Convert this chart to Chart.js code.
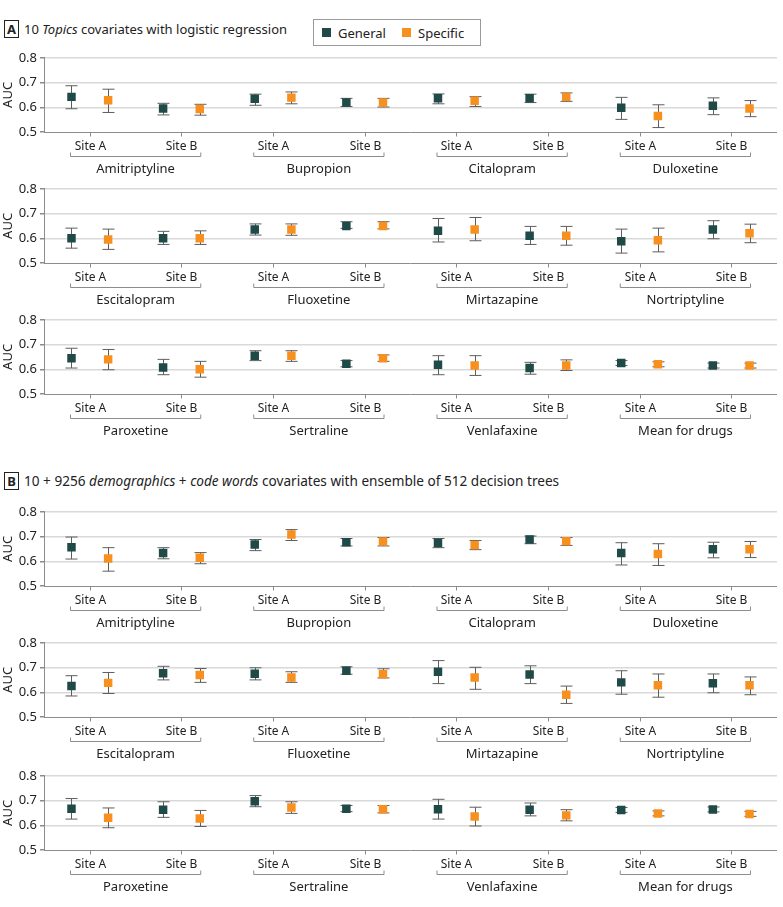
<!DOCTYPE html>
<html>
<head>
<meta charset="utf-8">
<script src="https://cdn.jsdelivr.net/npm/chart.js@4.4.1/dist/chart.umd.min.js"></script>
<style>
  body { margin: 0; background: #fff; font-family: "Noto Sans", sans-serif; color: #222; }
  #page { position: relative; width: 783px; height: 907px; }
  .hdr { position: absolute; left: 4px; font-size: 13px; line-height: 16px; white-space: nowrap; }
  .hdr .tag { display: inline-block; border: 1px solid #222; font-weight: bold; width: 13px; text-align: center; margin-right: 5px; font-size: 13px; }
  .legend { position: absolute; left: 313px; top: 19px; width: 166px; height: 25px; border: 1px solid #9a9a9a; font-size: 13px; }
  .legend span { position: absolute; top: 4px; }
  .legend i { position: absolute; top: 8px; width: 9px; height: 9px; }
  .panel { position: absolute; left: 0; width: 783px; height: 131px; }
</style>
</head>
<body>
<div id="page">
  <div class="hdr" style="top:20px"><span class="tag">A</span>10 <i>Topics</i> covariates with logistic regression</div>
  <div class="legend">
    <i style="left:8px;background:#1f4a48"></i><span style="left:24px">General</span>
    <i style="left:88px;background:#f7901e"></i><span style="left:104px">Specific</span>
  </div>
  <div class="hdr" style="top:472px;font-size:13.6px"><span class="tag">B</span>10 + 9256 <i>demographics</i> + <i>code words</i> covariates with ensemble of 512 decision trees</div>
  <div class="panel" style="top:47px"><canvas id="a0"></canvas></div>
  <div class="panel" style="top:178px"><canvas id="a1"></canvas></div>
  <div class="panel" style="top:309px"><canvas id="a2"></canvas></div>
  <div class="panel" style="top:501px"><canvas id="b0"></canvas></div>
  <div class="panel" style="top:632px"><canvas id="b1"></canvas></div>
  <div class="panel" style="top:765px"><canvas id="b2"></canvas></div>
</div>
<script>
// ── Data ───────────────────────────────────────
const drugs = ['Amitriptyline', 'Bupropion', 'Citalopram', 'Duloxetine',
               'Escitalopram', 'Fluoxetine', 'Mirtazapine', 'Nortriptyline',
               'Paroxetine', 'Sertraline', 'Venlafaxine', 'Mean for drugs'];
const sites = ['Site A', 'Site B'];
const yTicks = [0.5, 0.6, 0.7, 0.8];

// A — topics + logistic regression (per drug: Site A, Site B)
const aGen     = [.642,.595, .634,.619, .636,.636, .598,.606, .600,.600, .635,.650, .630,.610, .588,.635, .645,.607, .655,.622, .618,.605, .625,.615];
const aGenLo   = [.594,.569, .608,.603, .614,.619, .551,.570, .560,.575, .613,.640, .585,.575, .540,.598, .605,.578, .635,.610, .578,.580, .615,.605];
const aGenHi   = [.687,.616, .653,.636, .654,.653, .640,.638, .641,.628, .658,.667, .680,.648, .637,.671, .685,.640, .675,.635, .655,.628, .635,.625];
const aSpec    = [.628,.593, .639,.619, .626,.642, .565,.595, .595,.600, .635,.650, .635,.610, .592,.620, .640,.600, .655,.645, .615,.615, .620,.615];
const aSpecLo  = [.579,.568, .614,.601, .603,.624, .518,.562, .555,.575, .612,.638, .590,.572, .545,.582, .598,.568, .632,.632, .575,.595, .610,.605];
const aSpecHi  = [.673,.612, .662,.636, .643,.658, .610,.627, .637,.630, .658,.667, .684,.648, .641,.657, .680,.632, .675,.658, .655,.638, .630,.625];

// B — demographics + code words, decision tree ensemble
const bGen     = [.657,.633, .668,.677, .674,.688, .633,.649, .625,.677, .675,.687, .683,.672, .640,.636, .667,.663, .697,.667, .665,.663, .662,.664];
const bGenLo   = [.609,.610, .643,.662, .655,.671, .585,.614, .585,.650, .650,.673, .635,.635, .592,.598, .625,.632, .675,.655, .625,.638, .652,.654];
const bGenHi   = [.698,.655, .688,.692, .692,.702, .675,.677, .667,.705, .699,.703, .728,.707, .687,.674, .708,.695, .720,.680, .705,.690, .672,.674];
const bSpec    = [.611,.614, .708,.680, .666,.681, .629,.649, .638,.670, .660,.673, .660,.590, .628,.628, .630,.627, .672,.665, .635,.640, .648,.646];
const bSpecLo  = [.560,.590, .684,.662, .647,.664, .583,.615, .595,.640, .640,.658, .612,.555, .580,.590, .590,.595, .648,.650, .597,.618, .638,.636];
const bSpecHi  = [.655,.635, .728,.696, .684,.696, .671,.680, .680,.696, .683,.695, .701,.625, .674,.662, .670,.660, .695,.680, .673,.663, .658,.656];

const GEN_COLOR  = '#1f4a48';
const SPEC_COLOR = '#f7901e';
const BAR_COLOR  = '#5e5e5e';
const FONT = '"Noto Sans", sans-serif';
const OFFSET = 0.2;   // horizontal shift of General / Specific around the site tick

// ── Error bars + under-axis labels ─────────────
const decor = {
  id: 'decor',
  beforeDatasetsDraw(chart) {
    const { ctx, scales: { y } } = chart;
    ctx.save();
    ctx.strokeStyle = BAR_COLOR;
    ctx.lineWidth = 1;
    chart.data.datasets.forEach((ds, di) => {
      chart.getDatasetMeta(di).data.forEach((pt, i) => {
        const x = Math.round(pt.x) + 0.5;
        const top = y.getPixelForValue(ds.hi[i]);
        const bot = y.getPixelForValue(ds.lo[i]);
        ctx.beginPath();
        ctx.moveTo(x, top); ctx.lineTo(x, bot);
        ctx.moveTo(x - 6, top); ctx.lineTo(x + 6, top);
        ctx.moveTo(x - 6, bot); ctx.lineTo(x + 6, bot);
        ctx.stroke();
      });
    });
    ctx.restore();
  },
  afterDraw(chart) {
    const { ctx, chartArea: a, scales: { x } } = chart;
    const names = chart.options.plugins.decor.names;
    const base = Math.round(a.bottom) + 0.5;
    ctx.save();
    ctx.strokeStyle = '#8c8c8c';
    ctx.lineWidth = 1;
    ctx.beginPath();
    ctx.moveTo(a.left, base); ctx.lineTo(a.right, base);
    ctx.stroke();
    ctx.fillStyle = '#222';
    ctx.textAlign = 'center';
    ctx.textBaseline = 'middle';
    names.forEach((name, g) => {
      sites.forEach((s, k) => {
        const px = Math.round(x.getPixelForValue(g * 2 + k + 0.5)) + 0.5;
        ctx.beginPath();
        ctx.moveTo(px, base); ctx.lineTo(px, base + 4);
        ctx.stroke();
        ctx.font = '12px ' + FONT;
        ctx.fillText(s, px, base + 14);
      });
      const x0 = x.getPixelForValue(g * 2 + 0.5 - OFFSET) - 1;
      const x1 = x.getPixelForValue(g * 2 + 1.5 + OFFSET) + 1;
      const by = base + 24;
      ctx.beginPath();
      ctx.moveTo(x0, by - 4); ctx.lineTo(x0, by); ctx.lineTo(x1, by); ctx.lineTo(x1, by - 4);
      ctx.stroke();
      ctx.font = '13px ' + FONT;
      ctx.fillText(name, (x0 + x1) / 2, base + 37);
    });
    ctx.restore();
  },
};

function makePanel(id, p, gen, genLo, genHi, spec, specLo, specHi) {
  const s = p * 8;
  const idx = [0, 1, 2, 3, 4, 5, 6, 7];
  new Chart(document.getElementById(id), {
    type: 'scatter',
    data: {
      datasets: [
        {
          label: 'General',
          data: idx.map(i => ({ x: i + 0.5 - OFFSET, y: gen[s + i] })),
          lo: genLo.slice(s, s + 8), hi: genHi.slice(s, s + 8),
          pointStyle: 'rect', pointRadius: 6, pointHoverRadius: 6,
          backgroundColor: GEN_COLOR, borderColor: GEN_COLOR, borderWidth: 0,
        },
        {
          label: 'Specific',
          data: idx.map(i => ({ x: i + 0.5 + OFFSET, y: spec[s + i] })),
          lo: specLo.slice(s, s + 8), hi: specHi.slice(s, s + 8),
          pointStyle: 'rect', pointRadius: 6, pointHoverRadius: 6,
          backgroundColor: SPEC_COLOR, borderColor: SPEC_COLOR, borderWidth: 0,
        },
      ],
    },
    options: {
      responsive: true,
      maintainAspectRatio: false,
      animation: false,
      layout: { padding: { top: 10, right: 6, bottom: 46, left: 0 } },
      plugins: {
        legend: { display: false },
        tooltip: { enabled: false },
        decor: { names: drugs.slice(p * 4, p * 4 + 4) },
      },
      scales: {
        x: { type: 'linear', min: 0, max: 8, display: false },
        y: {
          min: 0.5, max: 0.8,
          afterFit: sc => { sc.width = 44; },
          afterBuildTicks: sc => { sc.ticks = yTicks.map(v => ({ value: v })); },
          ticks: { padding: 3, color: '#222', font: { family: FONT, size: 13 }, callback: v => v.toFixed(1) },
          grid: {
            color: ctx => ctx.tick && ctx.tick.value === 0.5 ? 'rgba(0,0,0,0)' : '#d9d9d9',
            tickColor: '#8c8c8c', tickLength: 4, lineWidth: 1.5,
          },
          border: { display: true, color: '#8c8c8c' },
          title: { display: true, text: 'AUC', color: '#222', padding: 0, font: { family: FONT, size: 13 } },
        },
      },
    },
    plugins: [decor],
  });
}

[0, 1, 2].forEach(p => makePanel('a' + p, p, aGen, aGenLo, aGenHi, aSpec, aSpecLo, aSpecHi));
[0, 1, 2].forEach(p => makePanel('b' + p, p, bGen, bGenLo, bGenHi, bSpec, bSpecLo, bSpecHi));
</script>
</body>
</html>
